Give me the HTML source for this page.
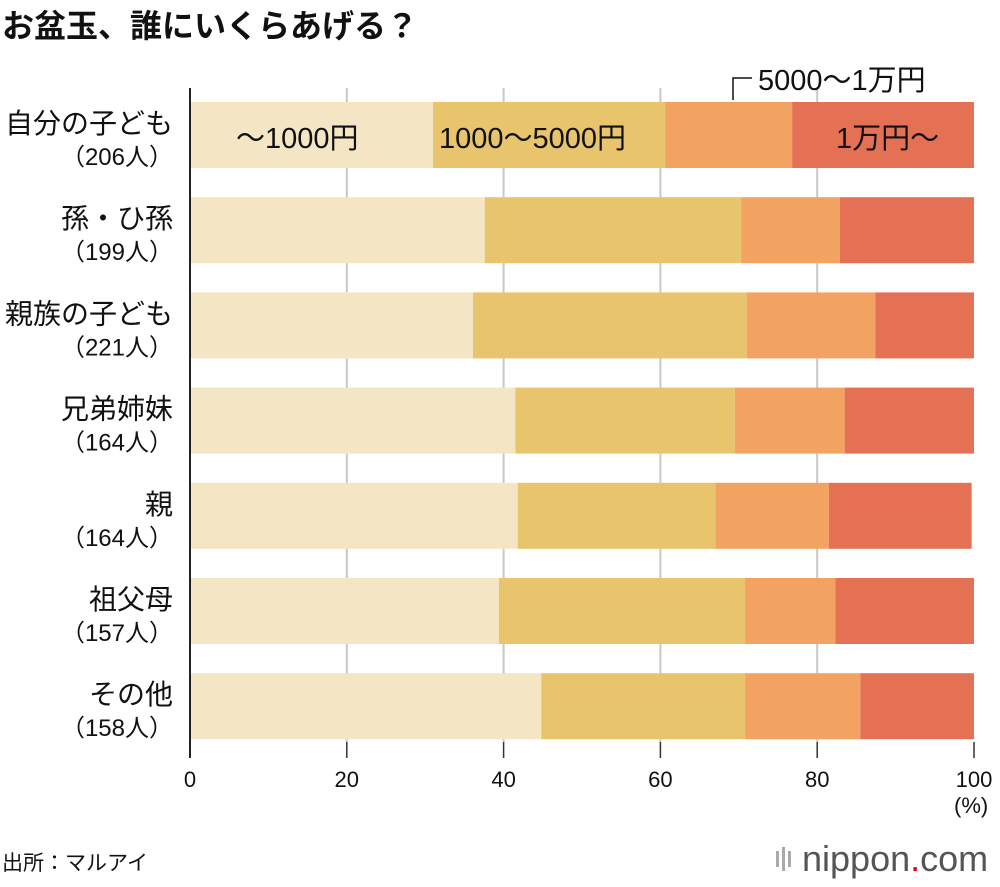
<!DOCTYPE html>
<html><head><meta charset="utf-8"><style>
body{margin:0;background:#fff;}
svg text{font-family:"Liberation Sans","Noto Sans CJK JP",sans-serif;fill:#111;}
</style></head><body>
<svg id="chart" width="1000" height="882" xmlns="http://www.w3.org/2000/svg">
<text x="2" y="37" font-size="32" font-weight="bold">お盆玉、誰にいくらあげる？</text>
<g id="grid"></g><g id="bars"></g><g id="labels"></g><g id="axis"></g>
<text x="236" y="148" font-size="29">～1000円</text>
<text x="439" y="148" font-size="29">1000～5000円</text>
<text x="836" y="148" font-size="29">1万円～</text>
<path d="M733,100 V78 H752" stroke="#111" stroke-width="1.5" fill="none"/>
<text x="758" y="90" font-size="29">5000～1万円</text>
<text x="954" y="813" font-size="22">(%)</text>
<text x="2" y="870" font-size="21">出所：マルアイ</text>
<g>
<rect x="776" y="851" width="3" height="16" fill="#aaa"/><rect x="782" y="847" width="3" height="24" fill="#aaa"/><rect x="788" y="851" width="3" height="16" fill="#aaa"/>
<text x="802" y="871" font-size="36" style="fill:#555">nippon<tspan style="fill:#e60012">.</tspan>com</text>
</g>
</svg>
<script>
const categories=["自分の子ども","孫・ひ孫","親族の子ども","兄弟姉妹","親","祖父母","その他"];
const counts=["206人","199人","221人","164人","164人","157人","158人"];
const s1=[31.0,37.6,36.1,41.5,41.8,39.4,44.8];
const s2=[29.6,32.7,34.9,28.0,25.2,31.4,26.0];
const s3=[16.2,12.6,16.4,14.0,14.5,11.5,14.7];
const s4=[23.2,17.1,12.6,16.5,18.2,17.7,14.5];
const ticks=[0,20,40,60,80,100];
const colors=["#f4e5c4","#e8c46d","#f2a362","#e57155"];
const NS="http://www.w3.org/2000/svg";
const x=v=>190+v*7.84;
const y=i=>102+i*95.2;
function mk(t,a,p){const e=document.createElementNS(NS,t);for(const k in a)e.setAttribute(k,a[k]);document.getElementById(p).appendChild(e);return e;}
ticks.forEach(t=>{if(t>0&&t<100){const l=mk("line",{x1:x(t),x2:x(t),y1:88,y2:742,stroke:"#c8c8c8","stroke-width":2},"grid");

}
const tk=mk("line",{x1:x(t),x2:x(t),y1:742,y2:758,stroke:"#333","stroke-width":1.5},"axis");


const tl=mk("text",{x:x(t),y:787,"font-size":22,"text-anchor":"middle"},"axis");tl.textContent=t;

});
const ax=mk("line",{x1:190,x2:190,y1:88,y2:758,stroke:"#222","stroke-width":2},"axis");


const series=[s1,s2,s3,s4];
categories.forEach((c,i)=>{let acc=0;series.forEach((s,j)=>{const r=mk("rect",{x:x(acc),y:y(i),width:s[i]*7.84,height:66,fill:colors[j]},"bars");acc+=s[i];

});
const t1=mk("text",{x:173,y:y(i)+31,"font-size":28,"text-anchor":"end"},"labels");t1.textContent=c;


const t2=mk("text",{x:173,y:y(i)+63,"font-size":24,"text-anchor":"end"},"labels");t2.textContent="（"+counts[i]+"）";

});
</script>
</body></html>
